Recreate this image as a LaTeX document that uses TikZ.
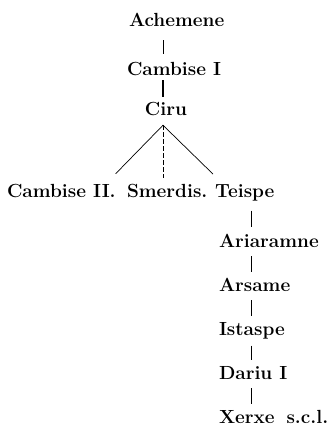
\documentclass[tikz,border=0pt]{standalone}
\usepackage{fontspec}
\begin{document}
\begin{tikzpicture}[x=1pt,y=1pt,
  person/.style={inner sep=0pt, outer sep=0pt, anchor=base west,
    font=\fontsize{19pt}{19pt}\selectfont\bfseries},
  conn/.style={line width=0.7pt},
  thickconn/.style={line width=1.3pt},
  branch/.style={line width=0.7pt},
  midbranch/.style={line width=0.45pt, dash pattern=on 5pt off 2pt}]
\useasboundingbox (0,0) rectangle (333,-428);
\coordinate (xa) at (163,0);
\coordinate (xc) at (251,0);
% top chain
\node[person] (ach) at (129,-27) {Achemene};
\node[person] (cam1) at (127,-75) {Cambise I};
\node[person, anchor=base] (ciru) at (166,-115) {Ciru};
% row
\node[person] (cam2) at (7,-197) {Cambise II.};
\node[person] (smer) at (127,-197) {Smerdis.};
\node[person] (teis) at (215,-197) {Teispe};
% column
\node[person] (aria) at (219,-247) {Ariaramne};
\node[person] (arsa) at (219,-291) {Arsame};
\node[person] (ista) at (219,-335) {Istaspe};
\node[person] (dari) at (219,-379) {Dariu I};
\node[person] (xerx) at (219,-423) {Xerxe\hspace{0.25em} s.c.l.};
% connectors
\draw[conn, shorten <=13pt, shorten >=8pt] (ach.south -| xa) -- (cam1.north -| xa);
\draw[thickconn, shorten <=5pt, shorten >=5pt] (cam1.south -| xa) -- (ciru.north -| xa);
\path (ciru.south -| xa) ++(0,-10) coordinate (apex);
\draw[branch] (apex) -- ([yshift=10pt]cam2.north east);
\draw[midbranch, shorten >=6pt] (apex) -- (smer.north -| xa);
\draw[branch] (apex) -- ([xshift=-2pt,yshift=10pt]teis.north west);
\draw[conn, shorten <=10pt, shorten >=7pt] (teis.south -| xc) -- (aria.north -| xc);
\draw[conn, shorten <=9pt, shorten >=6pt] (aria.south -| xc) -- (arsa.north -| xc);
\draw[conn, shorten <=9pt, shorten >=6pt] (arsa.south -| xc) -- (ista.north -| xc);
\draw[conn, shorten <=7pt, shorten >=6pt] (ista.south -| xc) -- (dari.north -| xc);
\draw[conn, shorten <=9pt, shorten >=6pt] (dari.south -| xc) -- (xerx.north -| xc);
\end{tikzpicture}
\end{document}
